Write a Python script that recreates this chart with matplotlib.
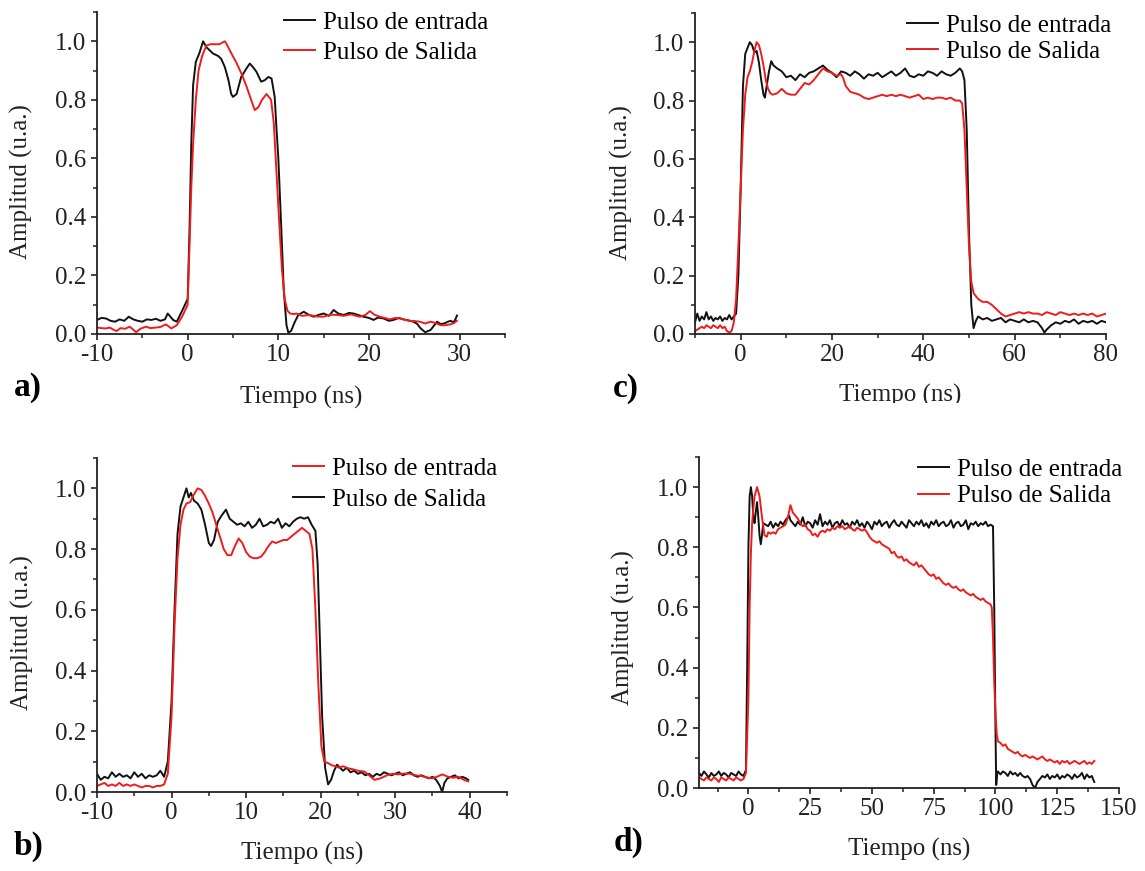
import matplotlib
matplotlib.use("Agg")
import matplotlib.pyplot as plt
from matplotlib.ticker import MultipleLocator
from matplotlib.transforms import Bbox, TransformedBbox

plt.rcParams['font.family'] = ['Liberation Serif', 'DejaVu Serif']
plt.rcParams['axes.unicode_minus'] = False

# ---------------- data ----------------
legend_in = "Pulso de entrada"
legend_out = "Pulso de Salida"
xlabel = "Tiempo (ns)"
ylabel = "Amplitud (u.a.)"
panel_labels = ["a)", "b)", "c)", "d)"]

# Panel a
ta_in = [-10, -9.5, -9, -8.5, -8, -7.5, -7, -6.5, -6, -5.5, -5, -4.5, -4, -3.5, -3, -2.5, -2.2, -1.6, -1.2, -0.6,
         0, 0.2, 0.4, 0.6, 0.9, 1.3, 1.7, 2.06, 2.8, 3.35, 3.7, 4.1, 4.5, 4.8, 5.0, 5.4, 5.9, 6.5, 6.85, 7.2, 7.6,
         8.1, 8.5, 8.9, 9.25, 9.6, 9.8, 10.0, 10.3, 10.6, 10.9, 11.1, 11.4, 11.8, 12.2, 12.8, 13.4, 13.9, 14.5,
         15.0, 15.6, 16.1, 16.6, 17.2, 17.8, 18.3, 18.9, 19.4, 20.0, 20.5, 21.0, 21.6, 22.2, 22.7, 23.3, 23.8,
         24.4, 24.9, 25.3, 25.7, 26.2, 26.8, 27.2, 27.5, 27.9, 28.3, 28.7, 29.0, 29.3, 29.5, 29.7]
ya_in = [0.048, 0.055, 0.053, 0.045, 0.042, 0.05, 0.045, 0.059, 0.05, 0.045, 0.042, 0.05, 0.048, 0.052, 0.045, 0.05, 0.07, 0.048, 0.042, 0.08,
         0.12, 0.35, 0.65, 0.85, 0.93, 0.96, 1.0, 0.98, 0.958, 0.95, 0.94, 0.912, 0.867, 0.82, 0.81, 0.82, 0.878, 0.908, 0.924, 0.912, 0.895,
         0.862, 0.867, 0.878, 0.873, 0.81, 0.7, 0.6, 0.38, 0.15, 0.03, 0.005, 0.01, 0.04, 0.065, 0.076, 0.065, 0.059, 0.066,
         0.07, 0.062, 0.082, 0.07, 0.065, 0.072, 0.07, 0.064, 0.059, 0.055, 0.048, 0.056, 0.053, 0.045, 0.048, 0.055, 0.05,
         0.046, 0.042, 0.035, 0.019, 0.006, 0.014, 0.03, 0.042, 0.034, 0.036, 0.042, 0.045, 0.04, 0.048, 0.063]
ta_out = [-10, -9.5, -9, -8.6, -8.2, -7.85, -7.4, -6.9, -6.4, -6.0, -5.7, -5.2, -4.6, -4.1, -3.5, -3.0, -2.4, -1.8, -1.2, -0.6,
          0, 0.2, 0.4, 0.6, 0.9, 1.2, 1.6, 2.06, 2.5, 3.0, 3.5, 4.1, 4.3, 4.8, 5.4, 6.0, 6.5, 7.0, 7.4, 7.8, 8.2, 8.7,
          9.2, 9.5, 9.8, 10.1, 10.4, 10.7, 11.0, 11.3, 11.7, 12.0, 12.6, 13.4, 14.2, 15.0, 15.7, 16.5, 17.2, 18.0,
          18.6, 19.0, 19.6, 20.1, 20.6, 21.2, 21.7, 22.3, 22.9, 23.4, 24.0, 24.5, 25.1, 25.6, 26.2, 26.8, 27.3, 27.9,
          28.4, 29.0, 29.4, 29.7]
ya_out = [0.022, 0.02, 0.019, 0.022, 0.015, 0.01, 0.02, 0.018, 0.025, 0.015, 0.006, 0.018, 0.025, 0.02, 0.022, 0.024, 0.033, 0.019, 0.03, 0.06,
          0.1, 0.3, 0.5, 0.65, 0.8, 0.9, 0.95, 0.985, 0.99, 0.99, 0.99, 1.0, 0.99, 0.96, 0.925, 0.885, 0.845, 0.8, 0.765, 0.775, 0.8, 0.82,
          0.8, 0.72, 0.55, 0.38, 0.22, 0.12, 0.08, 0.07, 0.068, 0.07, 0.062, 0.065, 0.06, 0.059, 0.066, 0.065, 0.062, 0.067,
          0.062, 0.059, 0.065, 0.078, 0.066, 0.059, 0.055, 0.05, 0.055, 0.053, 0.048, 0.045, 0.044, 0.042, 0.036, 0.042, 0.038, 0.03,
          0.03, 0.033, 0.038, 0.045]

# Panel b (red = "entrada", black = "Salida")
tb_red = [-10, -9.5, -9, -8.5, -8, -7.5, -7, -6.5, -6, -5.5, -5, -4.5, -4, -3.5, -3, -2.5, -2, -1.5, -1, -0.5,
          0, 0.4, 0.8, 1.2, 1.6, 2.0, 2.5, 3.0, 3.5, 4.0, 4.5, 5.0, 5.5, 6.0, 6.5, 7.0, 7.5, 8.0, 8.5, 9.0, 9.5, 10.0,
          10.5, 11.0, 11.5, 12.0, 12.5, 13.0, 13.5, 14.0, 14.5, 15.0, 15.5, 16.0, 16.5, 17.0, 17.5, 18.0, 18.5, 18.9,
          19.3, 19.7, 20.1, 20.5, 21.0, 21.5, 22.0, 22.5, 23.0, 23.7, 24.3, 25.0, 25.9, 26.5, 27.2, 28.0, 29.0, 29.7,
          30.4, 31.3, 32.0, 32.7, 33.5, 34.2, 34.9, 35.6, 36.3, 37.1, 37.8, 38.5, 39.3, 39.8]
yb_red = [0.02, 0.025, 0.03, 0.02, 0.025, 0.02, 0.03, 0.02, 0.025, 0.02, 0.025, 0.02, 0.015, 0.02, 0.02, 0.015, 0.02, 0.02, 0.025, 0.06,
          0.25, 0.55, 0.77, 0.88, 0.93, 0.95, 0.955, 0.98, 1.0, 0.995, 0.975, 0.95, 0.92, 0.88, 0.84, 0.8, 0.78, 0.78, 0.81, 0.835, 0.82, 0.79,
          0.775, 0.77, 0.77, 0.775, 0.79, 0.81, 0.825, 0.82, 0.825, 0.83, 0.83, 0.84, 0.85, 0.86, 0.87, 0.86, 0.85, 0.8,
          0.6, 0.35, 0.15, 0.1, 0.095, 0.088, 0.085, 0.08, 0.085, 0.078, 0.075, 0.07, 0.067, 0.055, 0.04, 0.045, 0.056, 0.06,
          0.058, 0.061, 0.06, 0.055, 0.053, 0.048, 0.045, 0.05, 0.058, 0.05, 0.047, 0.05, 0.039, 0.035]
tb_blk = [-10, -9.5, -9, -8.5, -8, -7.5, -7, -6.5, -6, -5.5, -5, -4.5, -4, -3.5, -3, -2.5, -2, -1.5, -1, -0.5,
          0, 0.4, 0.8, 1.2, 1.6, 2.0, 2.3, 2.6, 3.0, 3.5, 4.0, 4.5, 5.0, 5.3, 5.7, 6.2, 6.7, 7.3, 7.8, 8.3, 8.8, 9.3,
          9.8, 10.3, 10.8, 11.3, 11.8, 12.3, 12.8, 13.3, 13.8, 14.3, 14.8, 15.3, 15.8, 16.3, 16.8, 17.3, 17.8, 18.3,
          18.8, 19.3, 19.6, 19.9, 20.2, 20.6, 21.0, 21.4, 21.8, 22.2, 22.6, 23.0, 23.5, 24.0, 24.5, 25.0, 25.5, 26.0,
          26.5, 27.0, 27.5, 28.0, 28.5, 29.0, 29.5, 30.0, 30.5, 31.0, 31.5, 32.0, 32.5, 33.0, 33.5, 34.0, 34.5, 35.0,
          35.5, 36.0, 36.3, 36.6, 37.0, 37.5, 38.0, 38.5, 39.0, 39.5, 39.8]
yb_blk = [0.06, 0.04, 0.05, 0.045, 0.065, 0.05, 0.06, 0.05, 0.055, 0.045, 0.065, 0.05, 0.06, 0.045, 0.055, 0.05, 0.055, 0.07, 0.05, 0.1,
          0.3, 0.6, 0.85, 0.94, 0.97, 1.0, 0.97, 0.985, 0.96, 0.95, 0.93, 0.88, 0.82, 0.81, 0.83, 0.89, 0.91, 0.93, 0.9, 0.89, 0.88, 0.885,
          0.875, 0.89, 0.87, 0.88, 0.9, 0.875, 0.88, 0.89, 0.885, 0.9, 0.87, 0.885, 0.875, 0.89, 0.9, 0.905, 0.9, 0.905,
          0.88, 0.86, 0.75, 0.5, 0.25, 0.08, 0.025, 0.04, 0.07, 0.09, 0.08, 0.07, 0.08, 0.065, 0.07, 0.06, 0.065, 0.055,
          0.06, 0.05, 0.06, 0.055, 0.065, 0.06, 0.055, 0.06, 0.065, 0.055, 0.06, 0.065, 0.055, 0.05, 0.055, 0.05, 0.045, 0.05,
          0.04, 0.02, 0.0, 0.03, 0.045, 0.05, 0.055, 0.045, 0.05, 0.045, 0.04]

# Panel c
tc_in = [-10, -9.5, -9, -8.5, -8, -7.5, -7, -6.5, -6, -5.5, -5, -4.5, -4, -3.5, -3, -2.5, -2, -1.5, -1, -0.5,
         0, 0.5, 1, 1.5, 2, 2.5, 3, 3.5, 4, 4.5, 5, 5.3, 5.7, 6.2, 6.7, 7.2, 8, 9, 10, 11, 12, 13, 14, 15, 16, 17, 18,
         19, 20, 21, 22, 23, 24, 25, 26, 27, 28, 29, 30, 31, 32, 33, 34, 35, 36, 37, 38, 39, 40, 41, 42, 43, 44, 45,
         46, 47, 48, 48.5, 49, 49.5, 50, 50.5, 51, 51.5, 52, 53, 54, 55, 56, 57, 58, 59, 60, 61, 62, 63, 64, 65, 66,
         66.5, 67, 68, 69, 70, 71, 72, 73, 74, 75, 76, 77, 78, 79, 80]
yc_in = [0.04, 0.07, 0.045, 0.06, 0.05, 0.075, 0.05, 0.06, 0.045, 0.055, 0.05, 0.06, 0.045, 0.055, 0.05, 0.065, 0.05, 0.06, 0.07, 0.2,
         0.5, 0.85, 0.96, 0.98, 1.0, 0.99, 0.965, 0.97, 0.93, 0.87, 0.82, 0.81, 0.85, 0.9, 0.935, 0.92, 0.91, 0.9, 0.88, 0.885, 0.87, 0.89, 0.88, 0.895, 0.9, 0.91, 0.92,
         0.905, 0.895, 0.88, 0.9, 0.895, 0.885, 0.9, 0.89, 0.875, 0.89, 0.885, 0.895, 0.88, 0.89, 0.9, 0.885, 0.895, 0.91, 0.885, 0.88, 0.89, 0.885, 0.9, 0.895, 0.885, 0.9, 0.89,
         0.885, 0.895, 0.91, 0.9, 0.87, 0.7, 0.35, 0.1, 0.02, 0.045, 0.06, 0.05, 0.055, 0.045, 0.05, 0.055, 0.04, 0.05, 0.045, 0.04, 0.05, 0.04, 0.045, 0.04, 0.02,
         0.005, 0.015, 0.03, 0.04, 0.035, 0.045, 0.04, 0.05, 0.035, 0.045, 0.04, 0.045, 0.035, 0.045, 0.04]
tc_out = [-10, -9.5, -9, -8.5, -8, -7.5, -7, -6.5, -6, -5.5, -5, -4.5, -4, -3.5, -3, -2.5, -2, -1.5, -1, -0.5,
          0, 0.5, 1, 1.5, 2, 2.5, 3, 3.5, 4, 4.5, 5, 5.5, 6, 6.5, 7, 8, 9, 10, 11, 12, 13, 14, 15, 16, 17, 18, 19, 20,
          21, 22, 22.5, 23, 24, 25, 26, 27, 28, 29, 30, 31, 32, 33, 34, 35, 36, 37, 38, 39, 40, 41, 42, 43, 44, 45, 46,
          47, 48, 48.5, 49, 49.5, 50, 50.5, 51, 52, 53, 54, 55, 56, 57, 58, 59, 60, 61, 62, 63, 64, 65, 66, 67, 68, 69,
          70, 71, 72, 73, 74, 75, 76, 77, 78, 79, 80]
yc_out = [0.01, 0.015, 0.02, 0.025, 0.02, 0.03, 0.025, 0.02, 0.03, 0.025, 0.02, 0.03, 0.02, 0.025, 0.01, 0.005, 0.01, 0.04, 0.12, 0.3,
          0.5, 0.7, 0.82, 0.88, 0.9, 0.93, 0.97, 1.0, 0.99, 0.96, 0.92, 0.87, 0.84, 0.825, 0.82, 0.825, 0.84, 0.825, 0.82, 0.82, 0.84, 0.86, 0.855, 0.87, 0.89, 0.91, 0.9, 0.895,
          0.885, 0.89, 0.875, 0.85, 0.83, 0.825, 0.82, 0.81, 0.805, 0.81, 0.815, 0.82, 0.815, 0.82, 0.815, 0.82, 0.815, 0.81, 0.815, 0.82, 0.805, 0.81, 0.805, 0.81, 0.81, 0.805, 0.81,
          0.8, 0.8, 0.79, 0.7, 0.5, 0.3, 0.18, 0.14, 0.12, 0.11, 0.11, 0.1, 0.085, 0.07, 0.06, 0.065, 0.07, 0.075, 0.07, 0.075, 0.07, 0.07, 0.065, 0.075, 0.07, 0.065,
          0.075, 0.07, 0.065, 0.07, 0.065, 0.07, 0.065, 0.07, 0.06, 0.065, 0.07]

# Panel d
td_in = [-20, -19, -18, -17, -16, -15, -14, -13, -12, -11, -10, -9, -8, -7, -6, -5, -4, -3, -2, -1, -0.5,
         0, 0.5, 1, 1.5, 2, 2.5, 3, 3.5, 4, 4.5, 5, 5.5, 6, 7, 8, 9, 10, 11, 12, 13, 14, 15, 16, 16.5, 17, 18, 19, 20,
         21, 22, 23, 24, 25, 26, 27, 28, 29, 30, 31, 32, 33, 34, 35, 36, 37, 38, 39, 40, 41, 42, 43, 44, 45, 46, 47,
         48, 49, 50, 51, 52, 53, 54, 55, 56, 57, 58, 59, 60, 61, 62, 63, 64, 65, 66, 67, 68, 69, 70, 71, 72, 73, 74,
         75, 76, 77, 78, 79, 80, 81, 82, 83, 84, 85, 86, 87, 88, 89, 90, 91, 92, 93, 94, 95, 96, 97, 98, 99, 99.5,
         100, 100.3, 100.7, 101, 102, 103, 104, 105, 106, 107, 108, 109, 110, 111, 112, 113, 114, 115, 116, 117,
         118, 119, 120, 121, 122, 123, 124, 125, 126, 127, 128, 129, 130, 131, 132, 133, 134, 135, 136, 137, 138,
         139, 140]
yd_in = [0.05, 0.04, 0.055, 0.045, 0.035, 0.05, 0.04, 0.045, 0.055, 0.04, 0.05, 0.045, 0.035, 0.05, 0.045, 0.04, 0.055, 0.045, 0.04, 0.06, 0.4,
         0.8, 0.97, 1.0, 0.97, 0.9, 0.88, 0.92, 0.95, 0.9, 0.84, 0.81, 0.84, 0.88, 0.875, 0.87, 0.885, 0.865, 0.88, 0.87, 0.885, 0.875, 0.89, 0.9, 0.905, 0.89, 0.88, 0.87, 0.885,
         0.875, 0.9, 0.87, 0.885, 0.88, 0.865, 0.89, 0.875, 0.91, 0.87, 0.885, 0.875, 0.89, 0.865, 0.88, 0.885, 0.87, 0.89, 0.875, 0.88, 0.865, 0.885, 0.875, 0.89, 0.87, 0.88, 0.865,
         0.885, 0.875, 0.86, 0.885, 0.875, 0.89, 0.87, 0.88, 0.885, 0.865, 0.88, 0.89, 0.875, 0.87, 0.885, 0.875, 0.865, 0.89, 0.88, 0.87, 0.885, 0.875, 0.89, 0.87, 0.88, 0.865, 0.885,
         0.875, 0.89, 0.87, 0.88, 0.885, 0.87, 0.875, 0.89, 0.865, 0.88, 0.885, 0.87, 0.875, 0.89, 0.86, 0.88, 0.875, 0.885, 0.87, 0.88, 0.875, 0.885, 0.87, 0.875, 0.87, 0.6,
         0.2, 0.01, 0.05, 0.055, 0.045, 0.055, 0.05, 0.04, 0.055, 0.045, 0.05, 0.04, 0.05, 0.04, 0.035, 0.04, 0.03, 0.01, 0.0, 0.02,
         0.03, 0.04, 0.035, 0.045, 0.03, 0.04, 0.035, 0.045, 0.03, 0.04, 0.035, 0.045, 0.04, 0.03, 0.045, 0.035, 0.04, 0.05, 0.03, 0.045, 0.035,
         0.04, 0.02]
td_out = [-20, -19, -18, -17, -16, -15, -14, -13, -12, -11, -10, -9, -8, -7, -6, -5, -4, -3, -2, -1,
          0, 0.5, 1, 1.5, 2, 2.5, 3.5, 4.5, 5.5, 6.5, 7.5, 8, 9, 10, 11, 12, 13, 14, 15, 16, 17, 18, 19, 20, 21, 22,
          23, 24, 25, 26, 27, 28, 29, 30, 31, 32, 33, 34, 35, 36, 37, 38, 39, 40, 41, 42, 43, 44, 45, 46, 47, 48, 49,
          50, 51, 52, 53, 54, 55, 56, 57, 58, 59, 60, 61, 62, 63, 64, 65, 66, 67, 68, 69, 70, 71, 72, 73, 74, 75, 76,
          77, 78, 79, 80, 81, 82, 83, 84, 85, 86, 87, 88, 89, 90, 91, 92, 93, 94, 95, 96, 97, 98, 98.5, 99, 99.5, 100,
          100.5, 101, 102, 103, 104, 105, 106, 107, 108, 109, 110, 111, 112, 113, 114, 115, 116, 117, 118, 119, 120,
          121, 122, 123, 124, 125, 126, 127, 128, 129, 130, 131, 132, 133, 134, 135, 136, 137, 138, 139, 140]
yd_out = [0.035, 0.03, 0.025, 0.035, 0.03, 0.025, 0.035, 0.03, 0.02, 0.035, 0.03, 0.025, 0.035, 0.03, 0.025, 0.035, 0.03, 0.025, 0.03, 0.05,
          0.3, 0.6, 0.78, 0.88, 0.93, 0.97, 1.0, 0.97, 0.9, 0.84, 0.835, 0.85, 0.845, 0.85, 0.845, 0.86, 0.865, 0.87, 0.875, 0.9, 0.94, 0.915, 0.905, 0.895, 0.88, 0.87,
          0.875, 0.86, 0.855, 0.84, 0.845, 0.835, 0.85, 0.855, 0.85, 0.86, 0.855, 0.865, 0.86, 0.87, 0.865, 0.87, 0.86, 0.865, 0.87, 0.86, 0.855, 0.865, 0.86, 0.855, 0.86, 0.85, 0.835,
          0.825, 0.82, 0.815, 0.82, 0.81, 0.805, 0.8, 0.795, 0.78, 0.785, 0.77, 0.765, 0.77, 0.755, 0.76, 0.75, 0.745, 0.74, 0.75, 0.735, 0.74, 0.73, 0.72, 0.71, 0.705, 0.71, 0.695,
          0.7, 0.69, 0.68, 0.675, 0.68, 0.67, 0.665, 0.67, 0.66, 0.655, 0.66, 0.65, 0.645, 0.64, 0.645, 0.635, 0.63, 0.625, 0.63, 0.62, 0.615, 0.61, 0.6, 0.5, 0.35, 0.25,
          0.18, 0.155, 0.15, 0.14, 0.145, 0.13, 0.125, 0.12, 0.115, 0.12, 0.11, 0.105, 0.11, 0.105, 0.1, 0.105, 0.1, 0.095, 0.1, 0.105, 0.095,
          0.09, 0.095, 0.09, 0.085, 0.09, 0.08, 0.09, 0.085, 0.09, 0.08, 0.085, 0.09, 0.085, 0.08, 0.085, 0.09, 0.08, 0.085, 0.08, 0.09]

# ---------------- figure ----------------
W, H = 1145, 871
fig = plt.figure(figsize=(W / 100, H / 100), dpi=100)

def px_axes(left, right, top, bottom):
    return fig.add_axes([left / W, 1 - bottom / H, (right - left) / W, (bottom - top) / H])

RED = '#ee1c1c'
BLK = '#111111'
FS = 18

panels = [
    dict(rect=(97, 505, 12, 334), xlim=(-10, 35), major=10, minor=5,
         lines=[(ta_in, ya_in, BLK, legend_in), (ta_out, ya_out, RED, legend_out)],
         leg_order=[0, 1], leg=(0.958, 1.003), spacing=0.3, ylab=(-0.184, 0.472), xlab=-0.196,
         tag=(28, 387), tag_text=panel_labels[0]),
    dict(rect=(97, 507, 458, 792), xlim=(-10, 45), major=10, minor=5,
         lines=[(tb_blk, yb_blk, BLK, legend_out), (tb_red, yb_red, RED, legend_in)],
         leg_order=[1, 0], leg=(0.976, 1.002), spacing=0.35, ylab=(-0.183, 0.476), xlab=-0.183,
         tag=(28, 846), tag_text=panel_labels[1]),
    dict(rect=(695, 1106, 13, 334), xlim=(-10, 80), major=20, minor=10,
         lines=[(tc_in, yc_in, BLK, legend_in), (tc_out, yc_out, RED, legend_out)],
         leg_order=[0, 1], leg=(1.012, 0.996), spacing=0.15, ylab=(-0.178, 0.472), xlab=-0.190,
         tag=(626, 388), tag_text=panel_labels[2], clip_xlabel=403),
    dict(rect=(699, 1119, 457, 788), xlim=(-20, 150), major=25, minor=12.5,
         lines=[(td_in, yd_in, BLK, legend_in), (td_out, yd_out, RED, legend_out)],
         leg_order=[0, 1], leg=(1.007, 0.995), spacing=0.15, ylab=(-0.179, 0.486), xlab=-0.187,
         tag=(629, 842), tag_text=panel_labels[3]),
]

for p in panels:
    ax = px_axes(*p['rect'])
    handles = []
    for (t, y, c, lab) in p['lines']:
        h, = ax.plot(t, y, color=c, lw=1.4, label=lab)
        handles.append(h)
    ax.set_xlim(*p['xlim'])
    ax.set_ylim(0, 1.1)
    ax.xaxis.set_major_locator(MultipleLocator(p['major']))
    ax.xaxis.set_minor_locator(MultipleLocator(p['minor']))
    ax.yaxis.set_major_locator(MultipleLocator(0.2))
    ax.yaxis.set_minor_locator(MultipleLocator(0.1))
    ax.yaxis.set_major_formatter(matplotlib.ticker.FormatStrFormatter('%.1f'))
    for s in ['top', 'right']:
        ax.spines[s].set_visible(False)
    for s in ['left', 'bottom']:
        ax.spines[s].set_linewidth(1.3)
        ax.spines[s].set_color('#222222')
    ax.tick_params(which='major', direction='out', length=4, width=1.2, labelsize=FS,
                   colors='#222222')
    ax.tick_params(which='minor', direction='out', length=3, width=1.1, colors='#222222')
    ax.tick_params(axis='x', which='major', pad=3.5)
    ax.tick_params(axis='y', which='major', pad=4)
    ax.set_ylabel(ylabel, fontsize=FS, va='center', color='#222222')
    ax.yaxis.set_label_coords(*p['ylab'])
    ax.set_xlabel(xlabel, fontsize=FS, va='center', color='#222222')
    ax.xaxis.set_label_coords(0.5, p['xlab'])
    if 'clip_xlabel' in p:
        cb = TransformedBbox(Bbox([[0.5, 1 - p['clip_xlabel'] / H], [1, 1]]), fig.transFigure)
        ax.xaxis.label.set_clip_box(cb)
        ax.xaxis.label.set_clip_on(True)
    hs = [handles[i] for i in p['leg_order']]
    ax.legend(hs, [h.get_label() for h in hs], loc='upper right', bbox_to_anchor=p['leg'],
              frameon=False, fontsize=FS, borderaxespad=0, borderpad=0,
              handlelength=1.25, handletextpad=0.3, labelspacing=p['spacing'])
    fig.text(p['tag'][0] / W, 1 - p['tag'][1] / H, p['tag_text'], fontsize=24,
             fontweight='bold', ha='center', va='center')

fig.savefig('out.png', dpi=100)
